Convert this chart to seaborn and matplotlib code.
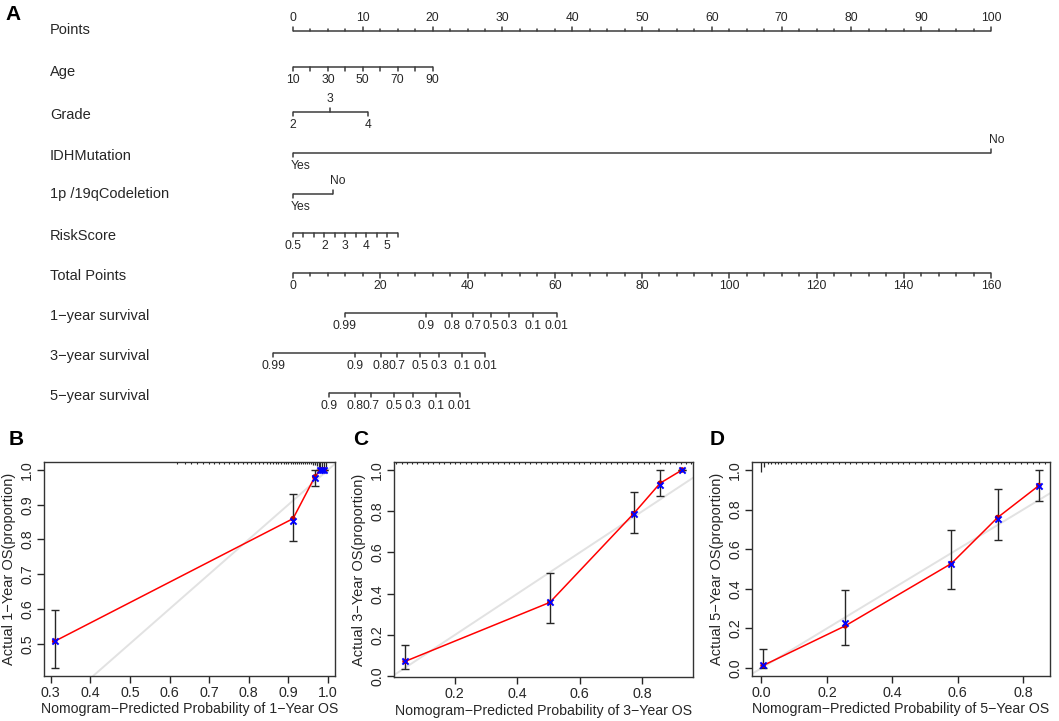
import numpy as np
import seaborn as sns
import matplotlib.pyplot as plt
import matplotlib.transforms as mtransforms
from matplotlib.ticker import FormatStrFormatter

# ---------------- nomogram scales (value -> points) ----------------
points_labels = [0, 10, 20, 30, 40, 50, 60, 70, 80, 90, 100]
age_values = [10, 20, 30, 40, 50, 60, 70, 80, 90]
age_points = [0, 2.5, 5, 7.5, 10, 12.5, 15, 17.5, 20]
age_labels = ['10', '', '30', '', '50', '', '70', '', '90']
grade_levels = ['2', '3', '4']
grade_points = [0, 5.3, 10.8]
idh_levels = ['Yes', 'No']
idh_points = [0, 100]
codel_levels = ['Yes', 'No']
codel_points = [0, 5.7]
risk_values = [0.5, 1, 1.5, 2, 2.5, 3, 3.5, 4, 4.5, 5, 5.5]
risk_points = [0, 1.5, 3, 4.5, 6, 7.5, 9, 10.5, 12, 13.5, 15]
risk_labels = ['0.5', '', '', '2', '', '3', '', '4', '', '5', '']
total_max = 160
total_labels = [0, 20, 40, 60, 80, 100, 120, 140, 160]
surv1_labels = ['0.99', '0.9', '0.8', '0.7', '0.5', '0.3', '0.1', '0.01']
surv1_total = [11.9, 30.4, 36.5, 41.3, 45.4, 49.5, 55.1, 60.5]
surv3_labels = ['0.99', '0.9', '0.8', '0.7', '0.5', '0.3', '0.1', '0.01']
surv3_total = [-4.5, 14.3, 20.2, 23.8, 29.1, 33.4, 38.7, 44.1]
surv5_labels = ['0.9', '0.8', '0.7', '0.5', '0.3', '0.1', '0.01']
surv5_total = [8.2, 14.3, 17.8, 23.1, 27.5, 32.7, 38.2]

# ---------------- calibration data ----------------
b_pred = [0.31, 0.912, 0.967, 0.981, 0.986, 0.991]
b_obs = [0.507, 0.86, 0.98, 1.0, 1.0, 1.0]
b_corr = [0.507, 0.853, 0.978, 1.0, 1.0, 1.0]
b_lo = [0.43, 0.797, 0.955, 1.0, 1.0, 1.0]
b_hi = [0.597, 0.932, 1.0, 1.0, 1.0, 1.0]
b_rug = [0.62, 0.64, 0.655, 0.67, 0.685, 0.70, 0.712, 0.726, 0.738, 0.75, 0.762,
         0.774, 0.785, 0.795, 0.806, 0.816, 0.826, 0.835, 0.845, 0.853, 0.861,
         0.868, 0.875, 0.882, 0.888, 0.894, 0.90, 0.906, 0.911, 0.917, 0.922,
         0.928, 0.933, 0.938, 0.943, 0.948, 0.953, 0.958]
b_rug_tall = [0.962, 0.967, 0.972, 0.977, 0.981, 0.986, 0.991, 0.995]
b_rug_tall_h = [3, 3, 4, 5, 8, 8, 8, 5]

c_pred = [0.041, 0.504, 0.772, 0.857, 0.927]
c_obs = [0.072, 0.358, 0.788, 0.936, 1.0]
c_corr = [0.075, 0.36, 0.786, 0.926, 1.0]
c_lo = [0.035, 0.257, 0.696, 0.876, 1.0]
c_hi = [0.153, 0.50, 0.892, 1.0, 1.0]
c_rug = [0.012, 0.03, 0.046, 0.063, 0.08, 0.098, 0.115, 0.131, 0.149, 0.166,
         0.184, 0.2, 0.218, 0.236, 0.252, 0.27, 0.287, 0.305, 0.321, 0.338,
         0.356, 0.374, 0.39, 0.407, 0.425, 0.441, 0.459, 0.476, 0.494, 0.51,
         0.528, 0.545, 0.563, 0.58, 0.597, 0.614, 0.632, 0.649, 0.666, 0.684,
         0.701, 0.718, 0.735, 0.752, 0.77, 0.787, 0.804, 0.821, 0.838, 0.856,
         0.873, 0.89, 0.907, 0.924, 0.94, 0.955]
c_rug_tall = []
c_rug_tall_h = []

d_pred = [0.005, 0.256, 0.58, 0.722, 0.848]
d_obs = [0.013, 0.213, 0.527, 0.76, 0.921]
d_corr = [0.013, 0.225, 0.527, 0.752, 0.917]
d_lo = [0.0, 0.117, 0.398, 0.644, 0.842]
d_hi = [0.097, 0.393, 0.698, 0.904, 1.0]
d_rug = [0.02, 0.03, 0.04, 0.05, 0.06, 0.075, 0.09, 0.105, 0.12, 0.135, 0.15,
         0.166, 0.182, 0.2, 0.218, 0.236, 0.254, 0.272, 0.29, 0.308, 0.326,
         0.344, 0.362, 0.38, 0.398, 0.416, 0.434, 0.452, 0.47, 0.488, 0.506,
         0.524, 0.542, 0.56, 0.578, 0.596, 0.614, 0.632, 0.65, 0.668, 0.686,
         0.704, 0.722, 0.74, 0.758, 0.776, 0.794, 0.812, 0.83, 0.848, 0.866]
d_rug_tall = [0.0, 0.008]
d_rug_tall_h = [10, 5]

sns.set_theme(style="ticks")
plt.rcParams['font.family'] = ['Liberation Sans', 'DejaVu Sans']
plt.rcParams['axes.unicode_minus'] = True

W, H = 1059, 721
fig = plt.figure(figsize=(W / 100, H / 100), dpi=100)
ink = '#262626'
line_c = '#3c3c3c'

# nomogram canvas: x in points, y in pixel rows
px_per_pt = 6.98
x0 = 293
nom = fig.add_axes([0, 0, 1, 1])
nom.set_xlim(-x0 / px_per_pt, (W - x0) / px_per_pt)
nom.set_ylim(H, 0)
nom.axis('off')

row_names = ['Points', 'Age', 'Grade', 'IDHMutation', '1p /19qCodeletion', 'RiskScore',
             'Total Points', '1\u2212year survival', '3\u2212year survival', '5\u2212year survival']
row_text_y = [30, 72, 115, 156, 194, 236, 276, 316, 356, 396]
row_line_y = [31, 67, 112, 153, 194, 233, 273, 313, 353, 393]
for name, ty in zip(row_names, row_text_y):
    fig.text(50 / W, 1 - ty / H, name, fontsize=10.5, color=ink, va='center', ha='left')

tick_fs = 8.7
lw = 1.1


def draw_axis(y, xs, labels, sides, lengths=None, ha='center'):
    nom.plot([min(xs), max(xs)], [y, y], color=line_c, lw=lw, solid_capstyle='butt')
    for i, (x, lab) in enumerate(zip(xs, labels)):
        s = sides[i] if isinstance(sides, list) else sides
        ln = lengths[i] if lengths is not None else 4
        d = -1 if s == 'up' else 1
        nom.plot([x, x], [y, y + d * ln], color=line_c, lw=lw)
        if lab != '':
            off = -0.35 if ha == 'left' else 0
            nom.text(x + off, y + d * 13, lab, fontsize=tick_fs, color=ink,
                     ha=ha, va='center')


# Points row
minor = np.arange(0, 100.1, 2.5)
draw_axis(row_line_y[0], list(minor),
          [str(int(m)) if m % 10 == 0 else '' for m in minor], 'up',
          [4.5 if m % 10 == 0 else 2.5 for m in minor])
# Age
draw_axis(row_line_y[1], age_points, age_labels, 'down')
# Grade
draw_axis(row_line_y[2], grade_points, grade_levels, ['down', 'up', 'down'])
# IDH mutation
draw_axis(row_line_y[3], idh_points, idh_levels, ['down', 'up'], ha='left')
# 1p/19q codeletion
draw_axis(row_line_y[4], codel_points, codel_levels, ['down', 'up'], ha='left')
# RiskScore
draw_axis(row_line_y[5], risk_points, risk_labels, 'down')
# Total points
scale = 100 / total_max
tot_minor = np.arange(0, total_max + 0.1, 4)
draw_axis(row_line_y[6], list(tot_minor * scale),
          [str(int(t)) if t % 20 == 0 else '' for t in tot_minor], 'down',
          [4.5 if t % 20 == 0 else 2.5 for t in tot_minor])
# survival rows
for ry, tots, labs in [(row_line_y[7], surv1_total, surv1_labels),
                       (row_line_y[8], surv3_total, surv3_labels),
                       (row_line_y[9], surv5_total, surv5_labels)]:
    draw_axis(ry, [t * scale for t in tots], labs, 'down')


# ---------------- calibration panels ----------------
def box(l, t, r, b):
    return [l / W, 1 - b / H, (r - l) / W, (b - t) / H]


def calib(rect, pred, obs, corr, lo, hi, rug, rug_tall, rug_tall_h,
          xlim, ylim, xticks, yticks, year):
    ax = fig.add_axes(box(*rect))
    box_h = rect[3] - rect[1]
    ax.axline((0, 0), (1, 1), color='#e2e2e2', lw=1.4, zorder=1)
    sns.lineplot(x=pred, y=obs, ax=ax, color='red', lw=1.1, sort=False,
                 estimator=None, zorder=2)
    obs_a = np.array(obs)
    ax.errorbar(pred, obs, yerr=[obs_a - np.array(lo), np.array(hi) - obs_a],
                fmt='none', ecolor=ink, elinewidth=1, capsize=3, capthick=1, zorder=3)
    sns.scatterplot(x=pred, y=obs, ax=ax, color='#c40000', s=16, edgecolor='none',
                    zorder=4)
    sns.scatterplot(x=pred, y=corr, ax=ax, color='blue', marker='x', s=20,
                    linewidth=1.4, zorder=5)
    trans = mtransforms.blended_transform_factory(ax.transData, ax.transAxes)
    ax.vlines(rug, 1 - 2.0 / box_h, 1, transform=trans, color=ink, lw=0.8)
    if rug_tall:
        ax.vlines(rug_tall, 1 - np.array(rug_tall_h) / box_h, 1, transform=trans,
                  color=ink, lw=0.9)
    ax.set_xlim(*xlim)
    ax.set_ylim(*ylim)
    ax.set_xticks(xticks)
    ax.set_yticks(yticks)
    ax.xaxis.set_major_formatter(FormatStrFormatter('%.1f'))
    ax.yaxis.set_major_formatter(FormatStrFormatter('%.1f'))
    ax.tick_params(direction='out', length=5, width=1, colors=ink, labelsize=10.3, pad=2)
    ax.tick_params(axis='y', labelrotation=90)
    for t in ax.get_yticklabels():
        t.set_va('center')
    for s in ax.spines.values():
        s.set_color('#333333')
        s.set_linewidth(1)
    ax.set_xlabel('Nomogram\u2212Predicted Probability of %d\u2212Year OS' % year,
                  fontsize=10.2, color=ink, labelpad=2)
    ax.set_ylabel('Actual %d\u2212Year OS(proportion)' % year, fontsize=10.5,
                  color=ink, labelpad=3)
    return ax


calib((44, 462, 335, 676), b_pred, b_obs, b_corr, b_lo, b_hi, b_rug,
      b_rug_tall, b_rug_tall_h, (0.283, 1.018), (0.407, 1.023),
      [0.3, 0.4, 0.5, 0.6, 0.7, 0.8, 0.9, 1.0], [0.5, 0.6, 0.7, 0.8, 0.9, 1.0], 1)
calib((394, 462, 693, 677), c_pred, c_obs, c_corr, c_lo, c_hi, c_rug,
      c_rug_tall, c_rug_tall_h, (0.0056, 0.962), (-0.0036, 1.0386),
      [0.2, 0.4, 0.6, 0.8], [0.0, 0.2, 0.4, 0.6, 0.8, 1.0], 3)
calib((752, 462, 1050, 676), d_pred, d_obs, d_corr, d_lo, d_hi, d_rug,
      d_rug_tall, d_rug_tall_h, (-0.029, 0.882), (-0.04, 1.04),
      [0.0, 0.2, 0.4, 0.6, 0.8], [0.0, 0.2, 0.4, 0.6, 0.8, 1.0], 5)

for letter, lx, ly in [('A', 13, 14), ('B', 16, 440), ('C', 361, 440), ('D', 717, 440)]:
    fig.text(lx / W, 1 - ly / H, letter, fontsize=15, fontweight='bold', color='black',
             ha='center', va='center')

fig.savefig('out.png', dpi=100)
